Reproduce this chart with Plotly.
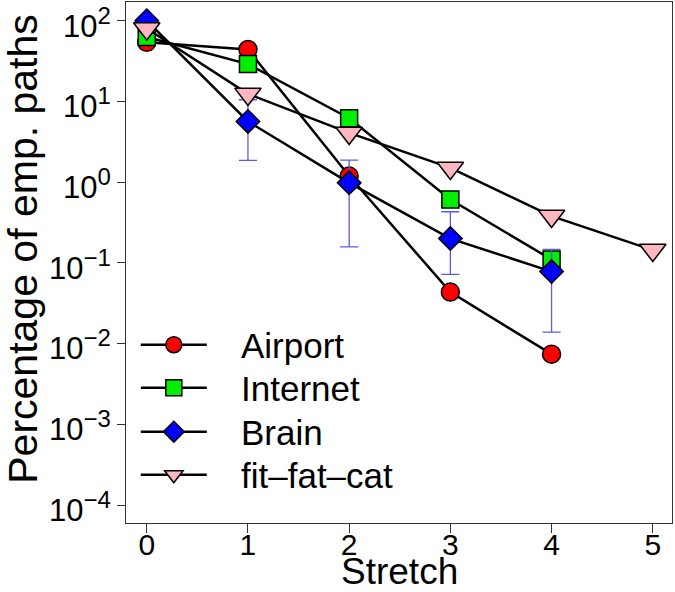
import plotly.graph_objects as go

stretch = [0, 1, 2, 3, 4, 5]
airport = [54, 44, 1.19, 0.0434, 0.0074]
internet = [63, 29, 6.2, 0.61, 0.11]
brain = [100, 5.65, 0.98, 0.20, 0.078]
brain_hi = [None, 10.5, 1.87, 0.43, 0.147]
brain_lo = [None, 1.86, 0.158, 0.072, 0.0139]
fitfatcat = [80, 12.4, 4.07, 1.5, 0.38, 0.144]

ytick_vals = [1e-4, 1e-3, 1e-2, 1e-1, 1, 10, 100]
ytick_exps = ["\u22124", "\u22123", "\u22122", "\u22121", "0", "1", "2"]
ytick_text = ["10<sup><span style='font-size:24px'>%s</span></sup>" % e for e in ytick_exps]

FONT = "Liberation Sans, Arial, Helvetica, sans-serif"
LINE = dict(color="black", width=2.5)
MLINE = dict(color="black", width=1.5)
PAD = "\u00a0\u00a0\u00a0"

fig = go.Figure()
fig.add_trace(go.Scatter(
    x=stretch[:len(airport)], y=airport, name=PAD + "Airport", mode="lines+markers",
    legend="legend",
    line=LINE, marker=dict(symbol="circle", size=18, color="#ff0000", line=MLINE)))
fig.add_trace(go.Scatter(
    x=stretch[:len(internet)], y=internet, name=PAD + "Internet", mode="lines+markers",
    legend="legend2",
    line=LINE, marker=dict(symbol="square", size=17, color="#00ee00", line=MLINE)))
b_plus = [0 if h is None else h - v for h, v in zip(brain_hi, brain)]
b_minus = [0 if l is None else v - l for l, v in zip(brain_lo, brain)]
fig.add_trace(go.Scatter(
    x=stretch[:len(brain)], y=brain, name=PAD + "Brain", mode="lines+markers",
    legend="legend3",
    line=LINE, marker=dict(symbol="diamond", size=18, color="#0000ff", line=MLINE),
    error_y=dict(type="data", symmetric=False, array=b_plus, arrayminus=b_minus,
                 color="#5c5ce0", thickness=1.3, width=9)))
fig.add_trace(go.Scatter(
    x=stretch[:len(fitfatcat)], y=fitfatcat, name=PAD + "fit\u2013fat\u2013cat", mode="lines+markers",
    legend="legend4",
    line=LINE, marker=dict(symbol="triangle-down", size=23, color="#ffb6c1", line=MLINE)))

def leg(yc):
    return dict(x=0.018, y=yc, xanchor="left", yanchor="middle",
                font=dict(size=35, family=FONT), bgcolor="rgba(0,0,0,0)",
                itemwidth=66)

fig.update_layout(
    width=675, height=592,
    margin=dict(l=126, r=3, t=2, b=69),
    paper_bgcolor="white", plot_bgcolor="white",
    font=dict(family=FONT, color="black"),
    showlegend=True,
    legend=leg(0.3417), legend2=leg(0.2591), legend3=leg(0.1747), legend4=leg(0.0921),
    annotations=[
        dict(text="Stretch", xref="paper", yref="paper", x=0.5, y=-0.094,
             xanchor="center", yanchor="middle", showarrow=False,
             font=dict(size=37, family=FONT)),
        dict(text="Percentage of emp. paths", xref="paper", yref="paper",
             x=-0.189, y=0.526, xanchor="center", yanchor="middle",
             textangle=-90, showarrow=False, font=dict(size=41, family=FONT)),
    ],
)
fig.update_xaxes(
    range=[-0.205, 5.19], tickvals=stretch, ticks="outside", ticklen=9,
    tickwidth=1, tickcolor="#333", showline=True, linecolor="#333", linewidth=1,
    mirror=True, showgrid=False, zeroline=False, automargin=False,
    ticklabeloverflow="allow", ticklabelstandoff=-14, tickfont=dict(size=30))
fig.update_yaxes(
    type="log", range=[-4.223, 2.232], tickvals=ytick_vals, ticktext=ytick_text,
    ticks="outside", ticklen=8, tickwidth=1, tickcolor="#333",
    showline=True, linecolor="#333", linewidth=1, mirror=True, showgrid=False,
    zeroline=False, automargin=False, ticklabeloverflow="allow",
    ticklabelshift=5, tickfont=dict(size=31))

fig.write_html("out.html", config={"displayModeBar": False},
               post_script="document.body.style.margin='0';document.body.style.padding='0';")
